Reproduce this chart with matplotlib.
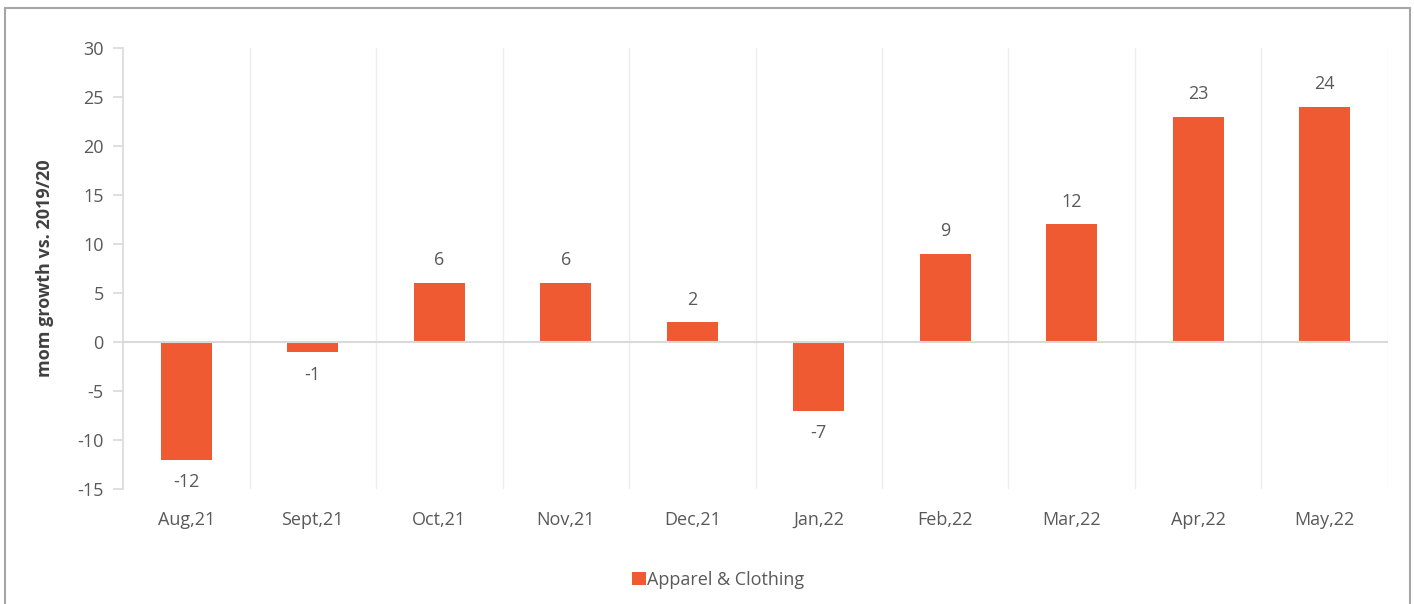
import matplotlib
matplotlib.use("Agg")
import matplotlib.pyplot as plt
from matplotlib.patches import Rectangle

categories = ["Aug,21", "Sept,21", "Oct,21", "Nov,21", "Dec,21", "Jan,22",
              "Feb,22", "Mar,22", "Apr,22", "May,22"]
values = [-12, -1, 6, 6, 2, -7, 9, 12, 23, 24]
yticks = [-15, -10, -5, 0, 5, 10, 15, 20, 25, 30]
series_name = "Apparel & Clothing"

plt.rcParams['font.family'] = ['Open Sans', 'DejaVu Sans']
bar_color = "#F05A32"
text_color = "#595959"
grid_color = "#D9D9D9"
fs = 13

fig = plt.figure(figsize=(14.14, 6.04), dpi=100)
ax = fig.add_axes([0.087, 0.1904, 0.8946, 0.7301])

x = list(range(len(categories)))
bars = ax.bar(x, values, width=0.4, color=bar_color, zorder=3, label=series_name)

ax.set_xlim(-0.5, len(categories) - 0.5)
ax.set_ylim(-15, 30)
ax.set_yticks(yticks)
ax.set_yticklabels([str(t) for t in yticks])
ax.set_xticks(x)
ax.set_xticklabels(categories)

# vertical gridlines at category boundaries
for b in range(1, len(categories) + 1):
    ax.axvline(b - 0.5, color="#EDEDED", lw=1, zorder=1)
ax.axhline(0, color=grid_color, lw=1.5, zorder=4)

for s in ["top", "right", "bottom"]:
    ax.spines[s].set_visible(False)
ax.spines["left"].set_color(grid_color)
ax.spines["left"].set_linewidth(1.2)

ax.tick_params(axis="y", colors=grid_color, labelcolor=text_color, labelsize=fs,
               length=7, width=1.2, pad=7)
ax.tick_params(axis="x", length=0, labelcolor=text_color, labelsize=fs, pad=16)

for xi, v in zip(x, values):
    if v >= 0:
        ax.annotate(str(v), (xi, v), xytext=(0, 10), textcoords="offset points",
                    ha="center", va="bottom", fontsize=fs, color=text_color)
    else:
        ax.annotate(str(v), (xi, v), xytext=(0, -10), textcoords="offset points",
                    ha="center", va="top", fontsize=fs, color=text_color)

ax.set_ylabel("mom growth vs. 2019/20", fontsize=fs, fontweight="bold",
              color="#404040", labelpad=17)

leg = fig.legend(handles=[bars], labels=[series_name], loc="center",
                 bbox_to_anchor=(0.508, 0.04), frameon=False, fontsize=fs,
                 handlelength=0.75, handleheight=0.75, handletextpad=0.1)
for t in leg.get_texts():
    t.set_color(text_color)

# outer chart border
fig.patches.append(Rectangle((5 / 1414, -0.02), 1405 / 1414, 1 - 8 / 604 + 0.02,
                             transform=fig.transFigure, fill=False,
                             edgecolor="#A6A6A6", lw=1.5))

fig.savefig("out.png", dpi=100)
